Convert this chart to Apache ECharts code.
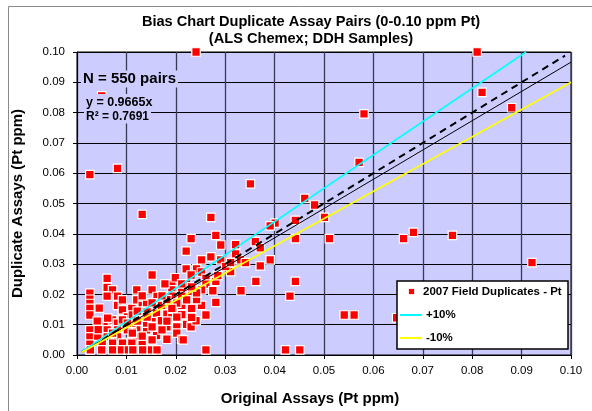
<!DOCTYPE html>
<html><head><meta charset="utf-8">
<script src="https://cdn.jsdelivr.net/npm/echarts@6/dist/echarts.min.js"></script>
<style>html,body{margin:0;padding:0;background:#fff}#c{width:592px;height:411px}</style>
</head><body><div id="c"></div>
<script>
// ---- data ----
const titleLines = ['Bias Chart Duplicate Assay Pairs (0-0.10 ppm Pt)', '(ALS Chemex; DDH Samples)'];
const xTitle = 'Original Assays (Pt ppm)';
const yTitle = 'Duplicate Assays (Pt ppm)';
const seriesName = '2007 Field Duplicates - Pt';
const plusName = '+10%';
const minusName = '-10%';
const nLabel = 'N = 550 pairs';
const eqLabel = 'y = 0.9665x';
const r2Label = 'R² = 0.7691';

const originalAssays = [
 0.0241,0.0810,0.0820,0.0880,0.0581,0.0571,0.0461,0.0481,0.0501,0.0511,0.0661,0.0681,0.0760,0.0921,0.0541,0.0561,0.0647,0.0451,0.0422,0.0261,0.0026,0.0082,0.0351,0.0132,0.0271,0.0050,
 0.0401,0.0391,0.0442,0.0442,0.0281,0.0231,0.0291,0.0321,0.0361,0.0371,0.0221,0.0321,0.0271,0.0291,0.0252,0.0331,0.0341,0.0391,0.0371,0.0311,0.0221,0.0242,0.0252,0.0231,0.0261,0.0281,0.0261,0.0252,0.0232,0.0281,0.0261,0.0332,0.0362,0.0442,0.0431,
 0.0152,0.0061,0.0061,0.0072,0.0061,0.0082,0.0121,0.0152,0.0192,0.0192,0.0212,0.0192,0.0212,0.0082,
 0.0026,0.0026,0.0026,0.0026,0.0026,0.0026,0.0026,0.0026,0.0026,
 0.0051,0.0051,0.0061,0.0072,0.0092,0.0102,0.0111,0.0121,0.0132,0.0141,0.0132,0.0152,0.0161,0.0171,0.0171,0.0182,0.0192,0.0212,0.0212,0.0232,0.0222,0.0231,0.0241,0.0202,0.0202,0.0212,0.0182,0.0161,0.0141,0.0121,0.0121,0.0102,0.0102,0.0082,0.0082,0.0082,0.0061,0.0061,0.0051,0.0072,0.0092,0.0111,0.0132,
 0.0027,0.0050,0.0072,0.0090,0.0104,0.0113,0.0133,0.0151,0.0162,0.0215,
 0.0202,0.0192,0.0141,0.0172,0.0152,0.0111,0.0092,0.0182,0.0162,0.0142,0.0112,0.0232,0.0252,0.0242,0.0222,0.0182,0.0152,0.0072,0.0122,
 0.0041,0.0045,0.0092,0.0102,0.0122,0.0132,0.0152,0.0172,0.0182,0.0202,0.0222,0.0242,0.0112,0.0132,0.0142,0.0062,0.0042,0.0043,0.0178,0.0199,0.0212,0.0232,0.0275,0.0285,0.0301,0.0311
];
const duplicateAssays = [
 0.1000,0.1000,0.0867,0.0816,0.0796,0.0636,0.0517,0.0495,0.0454,0.0384,0.0384,0.0405,0.0395,0.0305,0.0132,0.0132,0.0123,0.0017,0.0017,0.0017,0.0595,0.0616,0.0565,0.0464,0.0454,0.0855,
 0.0435,0.0426,0.0444,0.0384,0.0395,0.0384,0.0363,0.0364,0.0374,0.0354,0.0343,0.0334,0.0324,0.0314,0.0314,0.0314,0.0305,0.0314,0.0294,0.0275,0.0284,0.0284,0.0274,0.0264,0.0253,0.0243,0.0234,0.0215,0.0204,0.0174,0.0132,0.0212,0.0243,0.0243,0.0194,
 0.0264,0.0253,0.0223,0.0215,0.0194,0.0194,0.0215,0.0215,0.0233,0.0215,0.0215,0.0194,0.0194,0.0164,
 0.0204,0.0184,0.0170,0.0154,0.0132,0.0083,0.0060,0.0036,0.0017,
 0.0099,0.0072,0.0104,0.0116,0.0149,0.0126,0.0154,0.0182,0.0164,0.0173,0.0126,0.0123,0.0138,0.0164,0.0113,0.0135,0.0123,0.0164,0.0133,0.0154,0.0101,0.0093,0.0113,0.0093,0.0072,0.0052,0.0093,0.0064,0.0083,0.0083,0.0060,0.0083,0.0042,0.0105,0.0083,0.0060,0.0083,0.0060,0.0039,0.0039,0.0039,0.0039,0.0039,
 0.0017,0.0017,0.0017,0.0017,0.0017,0.0017,0.0017,0.0017,0.0017,0.0050,
 0.0171,0.0154,0.0105,0.0083,0.0093,0.0105,0.0116,0.0183,0.0193,0.0142,0.0132,0.0124,0.0164,0.0183,0.0235,0.0052,0.0050,0.0072,0.0112,
 0.0112,0.0155,0.0182,0.0105,0.0145,0.0195,0.0172,0.0195,0.0112,0.0125,0.0182,0.0205,0.0072,0.0062,0.0125,0.0122,0.0062,0.0084,0.0235,0.0255,0.0235,0.0225,0.0212,0.0262,0.0292,0.0305
];
// reference lines: [x-start, x-end] and slope
const plusX = [0.001, 0.0909];   const plusSlope = 1.10;
const minusX = [0.001, 0.10];    const minusSlope = 0.90;
const oneX = [0.001, 0.0988];    const oneSlope = 1.00;
const trendX = [0.001, 0.10];    const trendSlope = 0.9665;

// ---- chart ----
const FONT = '"Liberation Sans", Arial, sans-serif';
const pts = originalAssays.map((x, i) => [x, duplicateAssays[i]]);
const lineData = (xs, k) => xs.map(x => [x, +(x * k).toFixed(5)]);

const chart = echarts.init(document.getElementById('c'), null, {renderer: 'canvas'});
const lavender = '#ccccff';
chart.setOption({
  animation: false,
  backgroundColor: '#ffffff',
  textStyle: {fontFamily: FONT},
  title: {
    text: titleLines.join('\n'),
    left: 306, top: 8, textAlign: 'center',
    textStyle: {fontFamily: FONT, fontSize: 14.6, fontWeight: 'bold', color: '#000', lineHeight: 17}
  },
  grid: {left: 77, top: 52, right: 21, bottom: 56, show: true, backgroundColor: lavender, borderColor: '#000', borderWidth: 1},
  xAxis: {
    type: 'value', min: 0, max: 0.1, interval: 0.01,
    name: xTitle, nameLocation: 'middle', nameGap: 36,
    nameTextStyle: {fontFamily: FONT, fontSize: 15, fontWeight: 'bold', color: '#000', padding: [0, 28, 0, 0]},
    axisLine: {show: true, onZero: false, lineStyle: {color: '#000', width: 1}},
    axisTick: {show: true, length: 4, lineStyle: {color: '#000'}},
    axisLabel: {fontFamily: FONT, fontSize: 11.5, color: '#000', margin: 10, formatter: v => v.toFixed(2)},
    splitLine: {show: true, lineStyle: {color: '#3a3a55', width: 1.3}}
  },
  yAxis: {
    type: 'value', min: 0, max: 0.1, interval: 0.01,
    name: yTitle, nameLocation: 'middle', nameGap: 52, nameRotate: 90,
    nameTextStyle: {fontFamily: FONT, fontSize: 15, fontWeight: 'bold', color: '#000'},
    axisLine: {show: true, onZero: false, lineStyle: {color: '#000', width: 1}},
    axisTick: {show: true, length: 4, lineStyle: {color: '#000'}},
    axisLabel: {fontFamily: FONT, fontSize: 11.5, color: '#000', margin: 12, formatter: v => v.toFixed(2)},
    splitLine: {show: true, lineStyle: {color: '#000', width: 1}}
  },
  series: [
    {name: seriesName, type: 'scatter', data: pts, symbol: 'rect', symbolSize: 8.5, z: 2,
     itemStyle: {color: '#ff0000', borderColor: '#ffffff', borderWidth: 1.2, opacity: 1}},
    {name: 'trend', type: 'line', data: lineData(trendX, trendSlope), showSymbol: false, z: 3,
     lineStyle: {color: '#000', width: 1}},
    {name: '1:1', type: 'line', data: lineData(oneX, oneSlope), showSymbol: false, z: 3,
     lineStyle: {color: '#000', width: 2, type: [7, 5]}},
    {name: plusName, type: 'line', data: lineData(plusX, plusSlope), showSymbol: false, z: 3,
     lineStyle: {color: '#00ffff', width: 1.6}},
    {name: minusName, type: 'line', data: lineData(minusX, minusSlope), showSymbol: false, z: 3,
     lineStyle: {color: '#ffff00', width: 1.6}}
  ],
  graphic: [
    {type: 'rect', left: 6, top: 4, z: -10, silent: true,
     shape: {width: 620, height: 440}, style: {fill: 'none', stroke: '#8a8a8a', lineWidth: 1}},
    {type: 'text', x: 81, y: 79, z: 100,
     style: {text: nLabel, font: 'bold 15px ' + FONT, fill: '#000', verticalAlign: 'middle', backgroundColor: lavender, padding: [1, 2, 1, 2]}},
    {type: 'text', x: 84, y: 103, z: 100,
     style: {text: eqLabel, font: 'bold 12.5px ' + FONT, fill: '#000', verticalAlign: 'middle', backgroundColor: lavender, padding: [5, 2, 0, 2]}},
    {type: 'text', x: 84, y: 117, z: 100,
     style: {text: r2Label, font: 'bold 12px ' + FONT, fill: '#000', verticalAlign: 'middle', backgroundColor: lavender, padding: [0, 2, 1, 2]}},
    // legend
    {type: 'rect', z: 100, shape: {x: 397, y: 281, width: 171, height: 68},
     style: {fill: '#ffffff', stroke: '#000', lineWidth: 1.5}},
    {type: 'rect', z: 101, shape: {x: 408.5, y: 288.5, width: 6, height: 6},
     style: {fill: '#ff0000', stroke: '#ffffff', lineWidth: 0.8}},
    {type: 'text', z: 101, x: 423, y: 292,
     style: {text: seriesName, font: 'bold 11.5px ' + FONT, fill: '#000', verticalAlign: 'middle'}},
    {type: 'line', z: 101, shape: {x1: 400, y1: 315, x2: 422, y2: 315}, style: {stroke: '#00ffff', lineWidth: 2}},
    {type: 'text', z: 101, x: 426, y: 315,
     style: {text: plusName, font: 'bold 11.5px ' + FONT, fill: '#000', verticalAlign: 'middle'}},
    {type: 'line', z: 101, shape: {x1: 400, y1: 338, x2: 422, y2: 338}, style: {stroke: '#ffff00', lineWidth: 2}},
    {type: 'text', z: 101, x: 426, y: 338,
     style: {text: minusName, font: 'bold 11.5px ' + FONT, fill: '#000', verticalAlign: 'middle'}}
  ]
});
</script>
</body></html>
